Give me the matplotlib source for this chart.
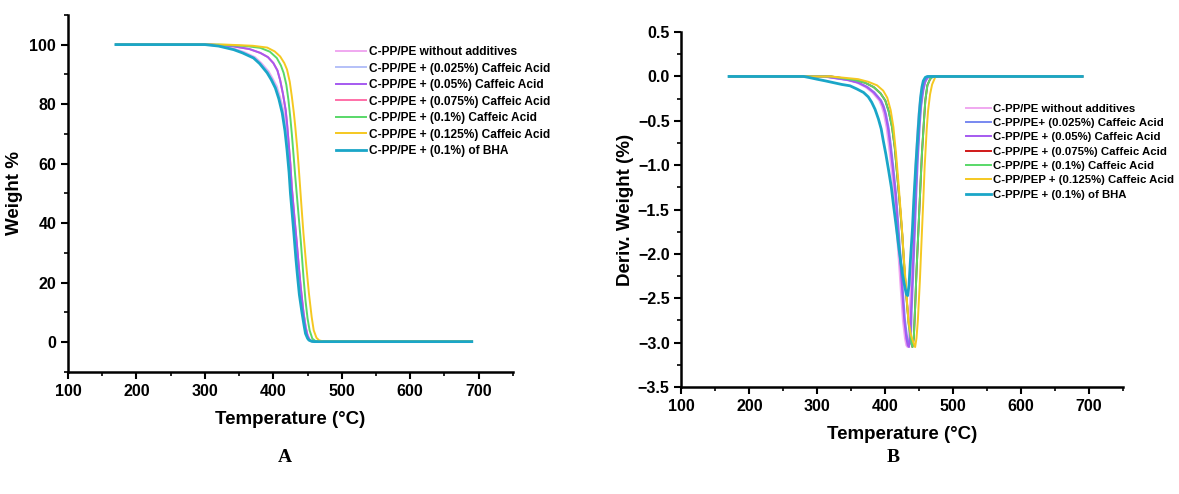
import matplotlib.pyplot as plt
from matplotlib.ticker import MultipleLocator

plt.rcParams['font.family'] = ['Liberation Sans', 'DejaVu Sans']
plt.rcParams['font.weight'] = 'bold'

# ---- TGA (panel A): temperature (°C) and weight (%)
t_cyan = [170, 300, 320, 342, 355, 371, 380, 391, 397, 403, 408, 413, 417, 420, 423, 425, 428, 430,
          433, 435, 438, 442, 445, 447, 450, 452, 456, 460, 690]
w_cyan = [100, 100, 99.5, 98.3, 97.2, 95.5, 93.6, 90.5, 88.2, 85.4, 81.8, 77, 71, 64.6, 57, 50, 42, 36.6,
          28, 23, 16, 9.7, 5.5, 2.9, 1.3, 0.7, 0.3, 0.2, 0.2]

t_pink = [170, 302, 322, 344, 357, 373, 382, 393, 399, 405, 410, 415, 419, 422, 425, 427, 430, 432,
          435, 437, 440, 444, 447, 449, 452, 454, 458, 462, 690]
w_pink = [100, 100, 99.6, 98.5, 97.5, 95.8, 93.9, 91, 88.6, 86, 82.2, 77.5, 71.5, 65, 57.5, 50.5, 42.5, 37,
          28.5, 23.5, 16.5, 10, 5.8, 3, 1.4, 0.8, 0.3, 0.3, 0.3]

t_lblue = [170, 301, 321, 343, 356, 372, 381, 392, 398, 404, 409, 414, 418, 421, 424, 426, 429, 431,
           434, 436, 439, 443, 446, 448, 451, 453, 457, 461, 690]
w_lblue = [100, 100, 99.5, 98.4, 97.3, 95.6, 93.7, 90.8, 88.4, 85.7, 82, 77.2, 71.2, 64.8, 57.2, 50.2, 42.2,
           36.8, 28.2, 23.2, 16.2, 9.8, 5.6, 2.9, 1.3, 0.7, 0.2, 0.2, 0.2]

t_purple = [170, 310, 342, 365, 381, 392, 400, 406, 410, 414, 418, 420, 422, 425, 427, 431, 434, 437,
            440, 444, 447, 450, 453, 457, 462, 690]
w_purple = [100, 100, 99.4, 98.5, 97.2, 95.8, 93.8, 91.3, 88, 83.5, 78, 73.5, 68, 59.5, 52, 41.5, 34, 26,
            18.6, 10, 5.2, 2.2, 0.7, 0.3, 0.2, 0.2]

t_hpink = t_purple
w_hpink = w_purple

t_green = [170, 320, 360, 381, 395, 405, 411, 415, 419, 422, 425, 427, 430, 432, 436, 440, 444, 447,
           450, 453, 457, 462, 690]
w_green = [100, 100, 99.5, 98.9, 97.6, 95.5, 93, 90.5, 86.5, 81.5, 75, 70, 61.5, 55.7, 45, 34.3, 22, 14,
           8, 4, 1.2, 0.3, 0.3]

t_yellow = [170, 330, 370, 391, 402, 410, 416, 420, 424, 427, 430, 432, 435, 437, 441, 444, 448, 452,
            456, 459, 463, 467, 473, 690]
w_yellow = [100, 100, 99.6, 99, 97.7, 96, 93.8, 91.6, 87.5, 82.6, 77, 72.5, 65, 59, 46, 36.6, 26, 16.4,
            8.5, 4, 1.5, 0.6, 0.3, 0.3]

# ---- DTG (panel B): temperature (°C) and deriv. weight (%)
d_t_cyan = [170, 280, 290, 299, 312, 324, 336, 348, 358, 368, 375, 380, 385, 390, 394, 397, 401, 405,
            409, 412, 416, 420, 423, 426, 429, 431, 433, 435, 437, 440, 442, 445, 447, 450, 452, 454,
            456, 459, 462, 690]
d_cyan = [0, 0, -0.015, -0.03, -0.05, -0.07, -0.09, -0.105, -0.14, -0.18, -0.23, -0.29, -0.37, -0.48,
          -0.59, -0.72, -0.88, -1.06, -1.25, -1.44, -1.68, -1.93, -2.1, -2.26, -2.38, -2.45, -2.47, -2.35,
          -2.08, -1.72, -1.40, -1.0, -0.76, -0.42, -0.24, -0.12, -0.05, -0.01, 0, 0]

d_t_pink = [170, 308, 343, 358, 371, 381, 391, 395, 398, 402, 405, 409, 413, 416, 420, 423, 426, 429,
            431, 433, 435, 436, 438, 440, 443, 445, 448, 450, 453, 456, 459, 462, 690]
d_pink = [0, 0, -0.04, -0.07, -0.12, -0.18, -0.27, -0.34, -0.42, -0.58, -0.76, -1.03, -1.33, -1.65,
          -2.08, -2.42, -2.75, -2.95, -3.03, -3.05, -2.9, -2.64, -2.28, -1.89, -1.3, -0.95, -0.55, -0.35,
          -0.17, -0.07, -0.02, 0, 0]

d_t_blue = [170, 311, 346, 361, 374, 384, 394, 398, 401, 405, 408, 412, 416, 419, 423, 426, 429, 432,
            434, 436, 438, 439, 441, 443, 446, 448, 451, 453, 456, 459, 462, 465, 690]
d_blue = [0, 0, -0.04, -0.07, -0.12, -0.18, -0.27, -0.34, -0.42, -0.58, -0.76, -1.03, -1.33, -1.65,
          -2.08, -2.42, -2.74, -2.93, -3.0, -3.02, -2.88, -2.62, -2.26, -1.87, -1.28, -0.93, -0.53, -0.33,
          -0.16, -0.06, -0.02, 0, 0]

d_t_purple = [170, 310, 345, 360, 373, 383, 393, 397, 400, 404, 407, 411, 415, 418, 422, 425, 428, 431,
              433, 435, 437, 438, 440, 442, 445, 447, 450, 452, 455, 458, 461, 464, 690]
d_purple = [0, 0, -0.04, -0.07, -0.12, -0.18, -0.27, -0.34, -0.42, -0.58, -0.76, -1.03, -1.33, -1.65,
            -2.08, -2.42, -2.75, -2.95, -3.03, -3.05, -2.9, -2.64, -2.28, -1.89, -1.3, -0.95, -0.55,
            -0.35, -0.17, -0.07, -0.02, 0, 0]

d_t_green = [170, 320, 355, 370, 383, 393, 400, 405, 410, 414, 417, 421, 425, 428, 432, 435, 438, 440,
             442, 444, 446, 449, 452, 454, 457, 459, 462, 466, 470, 690]
d_green = [0, 0, -0.04, -0.07, -0.12, -0.19, -0.27, -0.39, -0.57, -0.8, -1.06, -1.4, -1.78, -2.15, -2.56,
           -2.82, -2.98, -3.05, -2.95, -2.6, -2.2, -1.7, -1.2, -0.87, -0.5, -0.27, -0.1, -0.03, 0, 0]

d_t_red = d_t_green
d_red = d_green

d_t_yellow = [170, 320, 360, 375, 388, 397, 403, 408, 412, 416, 420, 424, 427, 431, 434, 438, 442, 444,
              446, 448, 451, 453, 456, 458, 461, 463, 466, 469, 474, 690]
d_yellow = [0, 0, -0.03, -0.06, -0.1, -0.16, -0.24, -0.38, -0.57, -0.88, -1.25, -1.65, -2.0, -2.42, -2.75,
            -2.92, -3.01, -3.05, -2.95, -2.75, -2.3, -1.93, -1.4, -1.02, -0.6, -0.39, -0.2, -0.09, 0, 0]

labels_a = ['C-PP/PE without additives', 'C-PP/PE + (0.025%) Caffeic Acid', 'C-PP/PE + (0.05%) Caffeic Acid',
            'C-PP/PE + (0.075%) Caffeic Acid', 'C-PP/PE + (0.1%) Caffeic Acid', 'C-PP/PE + (0.125%) Caffeic Acid',
            'C-PP/PE + (0.1%) of BHA']
labels_b = ['C-PP/PE without additives', 'C-PP/PE+ (0.025%) Caffeic Acid', 'C-PP/PE + (0.05%) Caffeic Acid',
            'C-PP/PE + (0.075%) Caffeic Acid', 'C-PP/PE + (0.1%) Caffeic Acid', 'C-PP/PEP + (0.125%) Caffeic Acid',
            'C-PP/PE + (0.1%) of BHA']

colors_a = ['#f0a8f0', '#b4c0f8', '#a55af0', '#ff70a8', '#58d868', '#f5c820', '#1aa6c8']
colors_b = ['#f0a8f0', '#7888f0', '#a55af0', '#d01818', '#58d868', '#f5c820', '#1aa6c8']

fig = plt.figure(figsize=(11.79, 4.94), dpi=100)
ax1 = fig.add_axes([0.0577, 0.247, 0.3773, 0.723])
ax2 = fig.add_axes([0.578, 0.2166, 0.3745, 0.7184])

series_a = [(t_pink, w_pink), (t_lblue, w_lblue), (t_purple, w_purple), (t_hpink, w_hpink),
            (t_green, w_green), (t_yellow, w_yellow), (t_cyan, w_cyan)]
series_b = [(d_t_pink, d_pink), (d_t_blue, d_blue), (d_t_purple, d_purple), (d_t_red, d_red),
            (d_t_green, d_green), (d_t_yellow, d_yellow), (d_t_cyan, d_cyan)]

# draw order keeps cyan on top and hot pink / red hidden like in the figure
order = [3, 0, 1, 2, 4, 5, 6]
for i in order:
    x, y = series_a[i]
    ax1.plot(x, y, color=colors_a[i], lw=2.0 if i == 6 else 1.4, label=labels_a[i])
for i in order:
    x, y = series_b[i]
    ax2.plot(x, y, color=colors_b[i], lw=2.0 if i == 6 else 1.4, label=labels_b[i])

for ax in (ax1, ax2):
    ax.spines['top'].set_visible(False)
    ax.spines['right'].set_visible(False)
    ax.spines['left'].set_linewidth(1.8)
    ax.spines['bottom'].set_linewidth(1.8)
    ax.set_xlim(100, 750)
    ax.set_xticks([100, 200, 300, 400, 500, 600, 700])
    ax.xaxis.set_minor_locator(MultipleLocator(50))
    ax.tick_params(which='major', direction='out', length=5, width=1.5, labelsize=11.5)
    ax.tick_params(which='minor', direction='out', length=3, width=1.2)

ax1.set_ylim(-10, 110)
ax1.set_yticks([0, 20, 40, 60, 80, 100])
ax1.yaxis.set_minor_locator(MultipleLocator(10))
ax1.set_xlabel('Temperature (°C)', fontsize=13.5, fontweight='bold', labelpad=9)
ax1.set_ylabel('Weight %', fontsize=13.5, fontweight='bold', labelpad=5)

ax2.set_ylim(-3.5, 0.5)
ax2.set_yticks([0.5, 0.0, -0.5, -1.0, -1.5, -2.0, -2.5, -3.0, -3.5])
ax2.yaxis.set_minor_locator(MultipleLocator(0.25))
ax2.set_xlabel('Temperature (°C)', fontsize=13.5, fontweight='bold', labelpad=9)
ax2.set_ylabel('Deriv. Weight (%)', fontsize=13.5, fontweight='bold', labelpad=3)

for ax in (ax1, ax2):
    for lab in ax.get_xticklabels() + ax.get_yticklabels():
        lab.set_fontweight('bold')

h1, l1 = ax1.get_legend_handles_labels()
idx = [order.index(i) for i in range(7)]
ax1.legend([h1[k] for k in idx], [l1[k] for k in idx], loc='upper left',
           bbox_to_anchor=(330 / 1179, 1 - 40 / 494), bbox_transform=fig.transFigure,
           frameon=False, handlelength=2.5, handletextpad=0.3,
           labelspacing=0.38, borderpad=0, prop={'weight': 'bold', 'size': 8.6})

h2, l2 = ax2.get_legend_handles_labels()
ax2.legend([h2[k] for k in idx], [l2[k] for k in idx], loc='upper left',
           bbox_to_anchor=(960 / 1179, 1 - 98 / 494), bbox_transform=fig.transFigure,
           frameon=False, handlelength=2.2, handletextpad=0.2,
           labelspacing=0.38, borderpad=0, prop={'weight': 'bold', 'size': 8.2})

fig.text(285 / 1179, 1 - 457 / 494, 'A', family=['Liberation Serif', 'DejaVu Serif'],
         fontsize=14, fontweight='bold', ha='center', va='center')
fig.text(893 / 1179, 1 - 457 / 494, 'B', family=['Liberation Serif', 'DejaVu Serif'],
         fontsize=14, fontweight='bold', ha='center', va='center')

fig.savefig('out.png', dpi=100)
